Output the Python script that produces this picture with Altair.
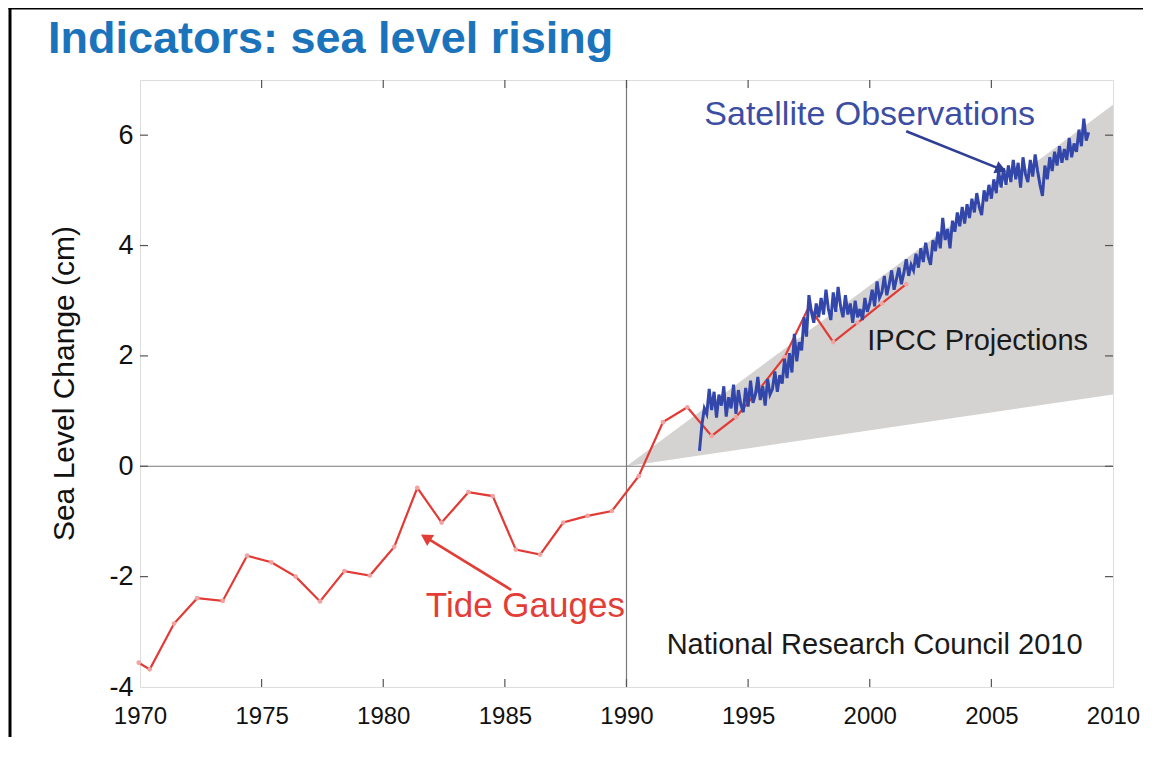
import altair as alt
import pandas as pd

# ---------------- data ----------------
tide_years = [1969.95, 1970.4, 1971.4, 1972.35, 1973.4, 1974.4, 1975.4, 1976.4, 1977.4,
              1978.4, 1979.45, 1980.45, 1981.4, 1982.4, 1983.5, 1984.5, 1985.45, 1986.45,
              1987.4, 1988.4, 1989.4, 1990.5, 1991.5, 1992.5, 1993.5, 1994.5, 1995.5,
              1996.5, 1997.5, 1998.5, 1999.5, 2000.5, 2001.5]
tide_cm = [-3.56, -3.68, -2.85, -2.39, -2.44, -1.62, -1.74, -2.00, -2.45,
           -1.90, -1.98, -1.46, -0.39, -1.02, -0.47, -0.54, -1.51, -1.60,
           -1.02, -0.90, -0.81, -0.18, 0.80, 1.07, 0.55, 0.89, 1.42,
           1.98, 2.89, 2.25, 2.60, 2.95, 3.30]

sat_start = 1993.0
sat_step = 0.1
sat_cm = [
    0.28, 0.75, 1.05, 0.95, 1.40, 1.02, 1.35, 0.88, 1.30, 1.10,
    1.45, 0.90, 1.25, 1.05, 1.48, 0.95, 1.38, 1.12, 0.98, 1.42,
    1.08, 1.55, 1.15, 1.30, 1.62, 1.20, 1.45, 1.10, 1.58, 1.30,
    1.40, 1.72, 1.35, 1.65, 1.50, 1.95, 1.60, 2.05, 1.70, 2.40,
    1.90, 2.25, 2.10, 2.70, 2.35, 3.10, 2.80, 2.60, 2.95, 2.70,
    3.05, 2.75, 3.20, 2.85, 2.65, 3.15, 2.80, 3.25, 2.90, 2.70,
    3.10, 2.75, 2.95, 2.60, 3.00, 2.70, 2.85, 2.65, 3.05, 2.80,
    2.95, 3.20, 2.90, 3.35, 3.05, 3.15, 3.45, 3.10, 3.30, 3.55,
    3.20, 3.40, 3.60, 3.30, 3.50, 3.75, 3.45, 3.65, 3.55, 3.85,
    3.60, 3.95, 3.70, 4.05, 3.80, 3.65, 4.10, 3.90, 4.25, 3.95,
    4.50, 4.10, 4.30, 3.95, 4.45, 4.25, 4.60, 4.35, 4.70, 4.40,
    4.75, 4.50, 4.85, 4.60, 4.95, 4.70, 4.55, 5.00, 4.80, 5.10,
    4.85, 5.20, 4.95, 5.35, 5.05, 5.40, 5.10, 5.45, 5.15, 5.55,
    5.20, 5.50, 5.05, 5.60, 5.30, 5.15, 5.55, 5.25, 5.65, 5.35,
    5.10, 4.90, 5.45, 5.20, 5.60, 5.35, 5.70, 5.45, 5.80, 5.50,
    5.75, 5.55, 5.95, 5.60, 5.85, 5.70, 6.10, 5.80, 6.30, 5.90,
    6.05,
]
sat_years = [round(sat_start + i * sat_step, 2) for i in range(len(sat_cm))]

band_years = [1990, 2010]
band_low = [0.0, 1.30]
band_high = [0.0, 6.55]

x_ticks = [1970, 1975, 1980, 1985, 1990, 1995, 2000, 2005, 2010]
y_ticks = [-4, -2, 0, 2, 4, 6]

# annotation text (year, cm)
labels = ["Satellite Observations", "IPCC Projections", "Tide Gauges", "National Research Council 2010"]
label_x = [1993.2, 1999.9, 1981.75, 1991.65]
label_y = [6.36, 2.27, -2.53, -3.24]
label_color = ["#3c4ea4", "#1a1a1a", "#e33d37", "#1a1a1a"]
label_size = [34, 29, 35, 29]

# arrows: start (year, cm) -> end (year, cm)
arrow_x0 = [2001.5, 1985.26]
arrow_y0 = [6.07, -2.24]
arrow_x1 = [2005.4, 1981.75]
arrow_y1 = [5.38, -1.29]
arrow_color = ["#2f3f96", "#e33d37"]
arrow_angle = [112, 302]

W, H = 973, 607

# ---------------- tables ----------------
tide_df = pd.DataFrame({"year": tide_years, "cm": tide_cm})
sat_df = pd.DataFrame({"year": sat_years, "cm": sat_cm})
band_df = pd.DataFrame({"year": band_years, "low": band_low, "high": band_high})
lab_df = pd.DataFrame({"text": labels, "x": label_x, "y": label_y, "color": label_color, "size": label_size})
arr_df = pd.DataFrame({"x0": arrow_x0, "y0": arrow_y0, "x1": arrow_x1, "y1": arrow_y1,
                       "color": arrow_color, "angle": arrow_angle})
xt_df = pd.DataFrame({"year": x_ticks[1:-1]})
yt_df = pd.DataFrame({"cm": y_ticks[1:]})

xscale = alt.Scale(domain=[1970, 2010], nice=False)
yscale = alt.Scale(domain=[-4, 7], nice=False)

xaxis = alt.Axis(values=x_ticks, format="d", ticks=False, domain=False, grid=False,
                 labelFont="Liberation Sans", labelFontSize=24, labelColor="#111",
                 labelPadding=17, title=None, labelFlush=False)
yaxis = alt.Axis(values=y_ticks, ticks=False, domain=False, grid=False,
                 labelExpr="'' + datum.value",
                 labelFont="Liberation Sans", labelFontSize=27, labelColor="#111",
                 labelPadding=7, title=None)

X = alt.X("year:Q", scale=xscale, axis=xaxis)
Y = alt.Y("cm:Q", scale=yscale, axis=yaxis)

band = alt.Chart(band_df).mark_area(color="#d5d3d1", opacity=1).encode(
    x=X, y=alt.Y("low:Q", scale=yscale, axis=yaxis), y2="high:Q")

zero_line = alt.Chart(pd.DataFrame({"cm": [0]})).mark_rule(color="#7a7a7a", strokeWidth=1.2).encode(
    y=alt.Y("cm:Q", scale=yscale), x=alt.value(0), x2=alt.value(W))
v_line = alt.Chart(pd.DataFrame({"year": [1990]})).mark_rule(color="#7a7a7a", strokeWidth=1.2).encode(
    x=alt.X("year:Q", scale=xscale), y=alt.value(0), y2=alt.value(H))

tide_line = alt.Chart(tide_df).mark_line(color="#e23a35", strokeWidth=2.2).encode(x=X, y=Y)
tide_pts = alt.Chart(tide_df).mark_circle(color="#f2a3a1", size=22, opacity=1).encode(x=X, y=Y)
sat_line = alt.Chart(sat_df).mark_line(color="#3347ab", strokeWidth=3).encode(x=X, y=Y)

tick_b = alt.Chart(xt_df).mark_rule(color="#555", strokeWidth=1.2).encode(
    x=alt.X("year:Q", scale=xscale), y=alt.value(H), y2=alt.value(H - 8))
tick_t = alt.Chart(xt_df).mark_rule(color="#555", strokeWidth=1.2).encode(
    x=alt.X("year:Q", scale=xscale), y=alt.value(0), y2=alt.value(8))
tick_l = alt.Chart(yt_df).mark_rule(color="#555", strokeWidth=1.2).encode(
    y=alt.Y("cm:Q", scale=yscale), x=alt.value(0), x2=alt.value(8))
tick_r = alt.Chart(yt_df).mark_rule(color="#555", strokeWidth=1.2).encode(
    y=alt.Y("cm:Q", scale=yscale), x=alt.value(W), x2=alt.value(W - 8))

arrows = alt.Chart(arr_df).mark_rule(strokeWidth=2.6).encode(
    x=alt.X("x0:Q", scale=xscale), y=alt.Y("y0:Q", scale=yscale),
    x2="x1:Q", y2="y1:Q", color=alt.Color("color:N", scale=None))
heads = alt.Chart(arr_df).mark_point(shape="triangle-up", filled=True, size=170, opacity=1).encode(
    x=alt.X("x1:Q", scale=xscale), y=alt.Y("y1:Q", scale=yscale),
    color=alt.Color("color:N", scale=None), angle=alt.Angle("angle:Q", scale=None))

texts = alt.Chart(lab_df).mark_text(align="left", baseline="middle", font="Liberation Sans").encode(
    x=alt.X("x:Q", scale=xscale), y=alt.Y("y:Q", scale=yscale), text="text:N",
    color=alt.Color("color:N", scale=None), size=alt.Size("size:Q", scale=None))

title = alt.Chart(pd.DataFrame({"t": ["Indicators: sea level rising"]})).mark_text(
    align="left", baseline="alphabetic", font="Liberation Sans", fontWeight="bold",
    fontSize=45, color="#1b74bb").encode(text="t:N", x=alt.value(48 - 140), y=alt.value(53 - 80))

ytitle = alt.Chart(pd.DataFrame({"t": ["Sea Level Change (cm)"]})).mark_text(
    align="center", baseline="middle", font="Liberation Sans", fontSize=30, angle=270,
    color="#111").encode(text="t:N", x=alt.value(65 - 140), y=alt.value(383.5 - 80))

border_l = alt.Chart(pd.DataFrame({"a": [0]})).mark_rule(color="#000", strokeWidth=3).encode(
    x=alt.value(-130), y=alt.value(-72), y2=alt.value(H + 80))
border_t = alt.Chart(pd.DataFrame({"a": [0]})).mark_rule(color="#000", strokeWidth=3).encode(
    y=alt.value(-72), x=alt.value(-131.5), x2=alt.value(W + 30))

chart = alt.layer(
    band, zero_line, v_line, tide_line, tide_pts, sat_line,
    tick_b, tick_t, tick_l, tick_r, arrows, heads, texts, title, ytitle, border_l, border_t
).properties(
    width=W, height=H,
    autosize=alt.AutoSizeParams(type="none"),
    padding={"left": 132, "top": 72, "right": 30, "bottom": 50},
).configure_view(stroke="#555", strokeWidth=1.5).configure(background="white")

chart.save("out.html", embed_options={"renderer": "svg", "actions": False})
